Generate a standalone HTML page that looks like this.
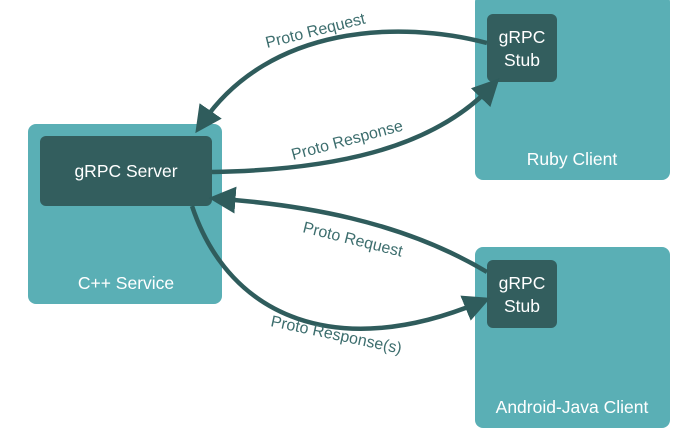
<!DOCTYPE html>
<html><head><style>body{margin:0;background:#fff}</style></head><body>
<svg width="680" height="442" viewBox="0 0 680 442" xmlns="http://www.w3.org/2000/svg" font-family="Liberation Sans, sans-serif">
<defs><marker id="a" markerWidth="6" markerHeight="6" refX="3" refY="3" orient="auto" markerUnits="strokeWidth"><path d="M0,0 L6,3 L0,6 Z" fill="#2f5c5c"/></marker></defs>
<rect x="28" y="124" width="194" height="180" rx="8" fill="#5aafb5"/>
<rect x="40" y="136" width="172" height="70" rx="6" fill="#335e5e"/>
<rect x="475" y="-6" width="195" height="186" rx="8" fill="#5aafb5"/>
<rect x="487" y="14" width="70" height="68" rx="6" fill="#335e5e"/>
<rect x="475" y="247" width="195" height="181" rx="8" fill="#5aafb5"/>
<rect x="487" y="260" width="70" height="68" rx="6" fill="#335e5e"/>
<g fill="#fff" font-size="17.5" text-anchor="middle">
<text x="126" y="177">gRPC Server</text>
<text x="126" y="289">C++ Service</text>
<text x="522" y="43">gRPC</text><text x="522" y="66">Stub</text>
<text x="572" y="165">Ruby Client</text>
<text x="522" y="289">gRPC</text><text x="522" y="312">Stub</text>
<text x="572" y="413">Android-Java Client</text>
</g>
<g fill="none" stroke="#2f5c5c" stroke-width="4.5">
<path d="M487,43 C400,20 270,25 203,122" marker-end="url(#a)"/>
<path d="M212,172 C330,170 430,150 490,88" marker-end="url(#a)"/>
<path d="M487,272 C400,220 300,205 222,199" marker-end="url(#a)"/>
<path d="M192,206 C230,320 340,360 478,303" marker-end="url(#a)"/>
</g>
<g fill="#3d6e6e" font-size="16">
<text transform="translate(267,48) rotate(-14)">Proto Request</text>
<text transform="translate(293,160) rotate(-15)">Proto Response</text>
<text transform="translate(302,232) rotate(14)">Proto Request</text>
<text transform="translate(270,326) rotate(12)">Proto Response(s)</text>
</g>
</svg>
</body></html>
